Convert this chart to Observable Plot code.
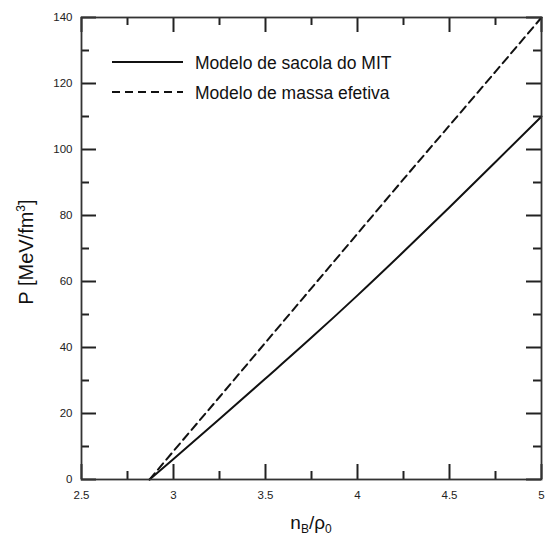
<!DOCTYPE html>
<html>
<head>
<meta charset="utf-8">
<script src="https://cdn.jsdelivr.net/npm/d3@7"></script>
<script src="https://cdn.jsdelivr.net/npm/@observablehq/plot@0.6"></script>
<style>
  body { margin: 0; background: #fff; }
  #chart svg { display: block; }
</style>
</head>
<body>
<div id="chart"></div>
<script>
// Baryon density (n_B / rho_0) and pressure (MeV/fm^3) for two quark-matter models
const density = [2.87, 3, 3.25, 3.5, 3.75, 4, 4.25, 4.5, 4.75, 5];
const pressureMIT = [0, 6.2, 18.3, 30.6, 43.0, 55.8, 69.0, 82.5, 96.2, 110];
const pressureEffMass = [0, 8.6, 25, 41.5, 58, 74.5, 91, 107.3, 123.6, 140];

const seriesNames = ["Modelo de sacola do MIT", "Modelo de massa efetiva"];

// Tick positions
const xMajor = [2.5, 3, 3.5, 4, 4.5, 5];
const xMinor = [2.75, 3.25, 3.75, 4.25, 4.75];
const yMajor = [0, 20, 40, 60, 80, 100, 120, 140];
const yMinor = [10, 30, 50, 70, 90, 110, 130];

const mit = density.map((x, i) => ({x, y: pressureMIT[i]}));
const eff = density.map((x, i) => ({x, y: pressureEffMass[i]}));

const W = 560, H = 539;
const M = {top: 17, right: 19, bottom: 60, left: 81};
const fw = W - M.left - M.right;   // frame width
const fh = H - M.top - M.bottom;   // frame height
const xDom = [2.5, 5], yDom = [0, 140];
const major = 15, minor = 8;       // tick lengths in pixels
const ink = "#222";
const font = "'Liberation Sans', Arial, Helvetica, sans-serif";

// convert a pixel length into data units along each axis
const dx = px => (xDom[1] - xDom[0]) * px / fw;
const dy = px => (yDom[1] - yDom[0]) * px / fh;

const tickStyle = {stroke: ink, strokeWidth: 2};

const plot = Plot.plot({
  width: W,
  height: H,
  marginTop: M.top,
  marginRight: M.right,
  marginBottom: M.bottom,
  marginLeft: M.left,
  style: {fontFamily: font, background: "#fff", color: ink},
  x: {domain: xDom},
  y: {domain: yDom},
  marks: [
    // tick labels
    Plot.axisX({ticks: xMajor, tickSize: 0, tickPadding: 11, fontSize: 11.5, label: null, tickFormat: d => String(d)}),
    Plot.axisY({ticks: yMajor, tickSize: 0, tickPadding: 9, fontSize: 11.5, label: null}),
    // inward ticks on all four sides
    Plot.ruleX(xMajor, {x: d => d, y1: yDom[0], y2: yDom[0] + dy(major), ...tickStyle}),
    Plot.ruleX(xMinor, {x: d => d, y1: yDom[0], y2: yDom[0] + dy(minor), ...tickStyle}),
    Plot.ruleX(xMajor, {x: d => d, y1: yDom[1], y2: yDom[1] - dy(major), ...tickStyle}),
    Plot.ruleX(xMinor, {x: d => d, y1: yDom[1], y2: yDom[1] - dy(minor), ...tickStyle}),
    Plot.ruleY(yMajor, {y: d => d, x1: xDom[0], x2: xDom[0] + dx(major), ...tickStyle}),
    Plot.ruleY(yMinor, {y: d => d, x1: xDom[0], x2: xDom[0] + dx(minor), ...tickStyle}),
    Plot.ruleY(yMajor, {y: d => d, x1: xDom[1], x2: xDom[1] - dx(major), ...tickStyle}),
    Plot.ruleY(yMinor, {y: d => d, x1: xDom[1], x2: xDom[1] - dx(minor), ...tickStyle}),
    // curves
    Plot.line(eff, {x: "x", y: "y", stroke: "#111", strokeWidth: 2, strokeDasharray: "8,5", curve: "monotone-x"}),
    Plot.line(mit, {x: "x", y: "y", stroke: "#111", strokeWidth: 2, curve: "monotone-x"}),
    Plot.frame({stroke: "#333", strokeWidth: 1.8})
  ]
});

document.getElementById("chart").appendChild(plot);

const svg = d3.select(plot);

// x-axis title: n_B / rho_0
const xt = svg.append("text")
  .attr("x", M.left + fw / 2)
  .attr("y", 529)
  .attr("text-anchor", "middle")
  .attr("font-family", font)
  .attr("font-size", 19)
  .attr("fill", "#111");
xt.append("tspan").text("n");
xt.append("tspan").attr("font-size", 12).attr("dy", 4).text("B");
xt.append("tspan").attr("dy", -4).text("/ρ");
xt.append("tspan").attr("font-size", 12).attr("dy", 4).text("0");

// y-axis title
const yt = svg.append("text")
  .attr("transform", `translate(33,${M.top + fh / 2 + 4}) rotate(-90)`)
  .attr("text-anchor", "middle")
  .attr("font-family", font)
  .attr("font-size", 20)
  .attr("fill", "#111");
yt.append("tspan").text("P [MeV/fm");
yt.append("tspan").attr("font-size", 12).attr("dy", -8).text("3");
yt.append("tspan").attr("dy", 8).text("]");

// legend
const legend = svg.append("g")
  .attr("font-family", font)
  .attr("font-size", 17.5)
  .attr("text-anchor", "start")
  .attr("fill", "#111");
const dashes = [null, "8,5"];
seriesNames.forEach((name, i) => {
  const y = 62 + i * 30;
  legend.append("line")
    .attr("x1", 112).attr("x2", 183).attr("y1", y).attr("y2", y)
    .attr("stroke", "#111").attr("stroke-width", 2)
    .attr("stroke-dasharray", dashes[i]);
  legend.append("text")
    .attr("x", 195).attr("y", y + 6.5)
    .attr("text-anchor", "start")
    .text(name);
});
</script>
</body>
</html>
